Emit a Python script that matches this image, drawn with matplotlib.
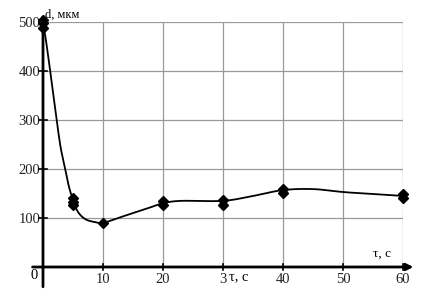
import numpy as np
import matplotlib.pyplot as plt

plt.rcParams['font.family'] = ['Liberation Serif', 'DejaVu Serif']

# measured points (several repeats per time)
t_pts = [0, 0, 0, 5, 5, 5, 10, 20, 20, 30, 30, 40, 40, 60, 60]
d_pts = [488, 497, 505, 126, 133, 141, 90, 126, 135, 127, 137, 151, 160, 141, 150]

# smooth fitted curve
t_curve = [0, 0.4, 1.2, 1.9, 2.5, 3.0, 3.7, 4.3, 5, 5.8, 7, 8.5, 10,
           12.5, 15, 17.5, 20, 23, 30, 35, 40, 45, 50, 55, 60]
d_curve = [495, 470, 400, 335, 280, 240, 200, 165, 137, 113, 98, 92, 90,
           100, 110, 120, 130, 135, 135, 145, 157, 159, 153, 149, 145]

x_ticks = [10, 20, 30, 40, 50, 60]
x_labels = ['10', '20', '3', '40', '50', '60']
y_ticks = [100, 200, 300, 400, 500]


def catmull_rom(xs, ys, n=12):
    # smooth the read-off curve between its knots
    p = np.column_stack([xs, ys]).astype(float)
    p = np.vstack([p[0], p, p[-1]])
    out = []
    for i in range(1, len(p) - 2):
        p0, p1, p2, p3 = p[i - 1], p[i], p[i + 1], p[i + 2]
        for t in np.linspace(0, 1, n, endpoint=False):
            out.append(0.5 * (2 * p1 + (-p0 + p2) * t
                              + (2 * p0 - 5 * p1 + 4 * p2 - p3) * t ** 2
                              + (-p0 + 3 * p1 - 3 * p2 + p3) * t ** 3))
    out.append(p[-2])
    out = np.array(out)
    return out[:, 0], out[:, 1]


fig = plt.figure(figsize=(4.35, 2.89), dpi=100)
ax = fig.add_axes([43/435, 22/289, 360/435, 245/289])
ax.set_xlim(0, 60)
ax.set_ylim(0, 500)
for s in ax.spines.values():
    s.set_visible(False)

ax.set_xticks(x_ticks)
ax.set_yticks(y_ticks)
ax.grid(True, color='#999999', linewidth=0.9)
ax.tick_params(length=0, labelsize=10.5, pad=4, labelcolor='#222222')
ax.set_xticklabels(x_labels)
ax.set_yticklabels([str(v) for v in y_ticks])
ax.tick_params(axis='y', pad=2)

# small tick marks on the axes
for xt in x_ticks:
    ax.plot([xt, xt], [-6, 6], color='black', lw=1.2, clip_on=False)
for yt in y_ticks:
    ax.plot([-0.6, 0.6], [yt, yt], color='black', lw=1.2, clip_on=False)

# axes with arrows
ax.annotate('', xy=(62.2, 0), xytext=(-2.2, 0),
            arrowprops=dict(arrowstyle='-|>', color='black', lw=2, mutation_scale=10),
            annotation_clip=False)
ax.annotate('', xy=(0, 522), xytext=(0, -46),
            arrowprops=dict(arrowstyle='-|>', color='black', lw=2, mutation_scale=10),
            annotation_clip=False)

cx, cy = catmull_rom(t_curve, d_curve)
ax.plot(cx, cy, color='black', lw=1.3, clip_on=False)
ax.plot(t_pts, d_pts, 'D', color='black', markersize=5.5, clip_on=False)

ax.text(0.3, 503, 'd, мкм', fontsize=9, ha='left', va='bottom')
ax.text(58, 28, 'τ, с', fontsize=9.5, ha='right', va='center')
ax.text(31, -20, 'τ, с', fontsize=10.5, ha='left', va='center')
ax.text(-0.9, -18, '0', fontsize=10.5, ha='right', va='center')

fig.savefig('out.png', dpi=100)
